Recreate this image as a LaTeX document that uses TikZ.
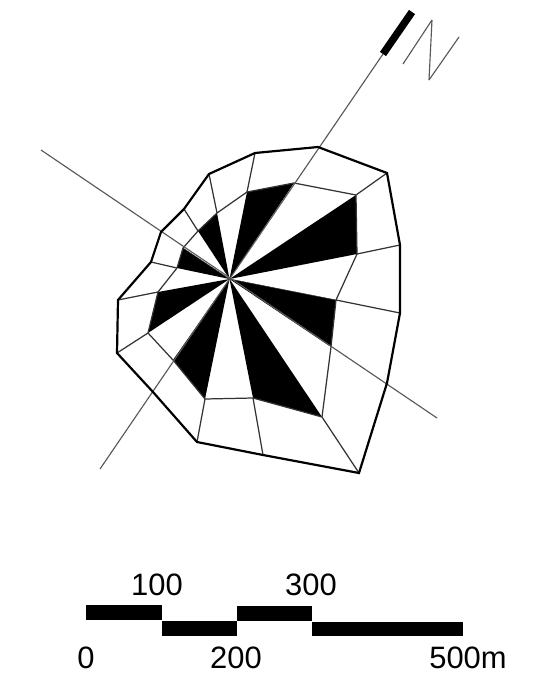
\documentclass[tikz,border=0pt]{standalone}
\usepackage{fontspec}
\setmainfont{Liberation Sans}
\begin{document}
\begin{tikzpicture}[x=0.02cm,y=-0.02cm]
\tikzstyle{o}=[draw=black,line width=1.25pt,line join=miter]
\tikzstyle{s}=[draw=black!80,line width=0.7pt]
\tikzstyle{a}=[draw=black!65,line width=0.65pt]
\tikzstyle{b}=[fill=black,draw=none]
\tikzstyle{l}=[inner sep=0pt,font=\fontsize{17.6}{20}\selectfont]
\useasboundingbox (0,0) rectangle (543,690);
\coordinate (C) at (229.5,279);
% inner ring
\coordinate (i1) at (247,192);
\coordinate (i2) at (294,183);
\coordinate (i3) at (356,195);
\coordinate (i4) at (357,254);
\coordinate (i5) at (336,300);
\coordinate (i6) at (331,347);
\coordinate (i7) at (322,417);
\coordinate (i8) at (253,398);
\coordinate (i9) at (205,399);
\coordinate (i10) at (173,360);
\coordinate (i11) at (148,333);
\coordinate (i12) at (158,292);
\coordinate (i13) at (177,268);
\coordinate (i14) at (183,248);
\coordinate (i15) at (198,231);
\coordinate (i16) at (217,213);
% outer ring
\coordinate (o1) at (255,153);
\coordinate (o2) at (318,147);
\coordinate (o3) at (387,173);
\coordinate (o4) at (400,245);
\coordinate (o5) at (400,313);
\coordinate (o6) at (387,383);
\coordinate (o7) at (359,473);
\coordinate (o8) at (263,455);
\coordinate (o9) at (197,442);
\coordinate (o10) at (153,392);
\coordinate (o11) at (117,353);
\coordinate (o12) at (118,300);
\coordinate (o13) at (151,262);
\coordinate (o14) at (161,232);
\coordinate (o15) at (184,209);
\coordinate (o16) at (209,174);
% axes
\coordinate (nA) at (100,469);
\coordinate (nB) at (383,54);
\coordinate (nC) at (412,12);
\coordinate (eA) at (41,150);
\coordinate (eB) at (437,418);
% black sectors
\fill[b] (C) -- (i1) -- (i2) -- cycle;
\fill[b] (C) -- (i3) -- (i4) -- cycle;
\fill[b] (C) -- (i5) -- (i6) -- cycle;
\fill[b] (C) -- (i7) -- (i8) -- cycle;
\fill[b] (C) -- (i9) -- (i10) -- cycle;
\fill[b] (C) -- (i11) -- (i12) -- cycle;
\fill[b] (C) -- (i13) -- (i14) -- cycle;
\fill[b] (C) -- (i15) -- (i16) -- cycle;
% rays to the centre
\draw[s,line width=0.3pt] (C) -- (i5) (C) -- (i14);
% ring and spokes
\draw[s] (i1) -- (i2) -- (i3) -- (i4) -- (i5) -- (i6) -- (i7) -- (i8) -- (i9) -- (i10) -- (i11) -- (i12) -- (i13) -- (i14) -- (i15) -- (i16) -- cycle;
\draw[s] (i1) -- (o1) (i3) -- (o3) (i4) -- (o4) (i5) -- (o5);
\draw[s] (i7) -- (o7) (i8) -- (o8) (i9) -- (o9);
\draw[s] (i11) -- (o11) (i12) -- (o12) (i13) -- (o13) (i15) -- (o15) (i16) -- (o16);
\draw[a] (nA) -- (nB);
\draw[a] (eA) -- (eB);
\draw[o] (o1) -- (o2) -- (o3) -- (o4) -- (o5) -- (o6) -- (o7) -- (o8) -- (o9) -- (o10) -- (o11) -- (o12) -- (o13) -- (o14) -- (o15) -- (o16) -- cycle;
% north
\draw[draw=black,line width=4.2pt] (nB) -- (nC);
\coordinate (n1) at (403,64);
\coordinate (n2) at (432,20);
\coordinate (n3) at (429,80);
\coordinate (n4) at (459,37);
\draw[a,line join=bevel] (n1) -- (n2) -- (n3) -- (n4);
% scale bar
\fill[b] (86,605) rectangle (162,620);
\fill[b] (162,620.5) rectangle (237,636);
\fill[b] (237,606) rectangle (312,621);
\fill[b] (312,621.5) rectangle (463,636);
\node[l] (t100) at (157,585) {100};
\node[l] (t300) at (311,585) {300};
\node[l] (t0) at (86,658) {0};
\node[l] (t200) at (236,658) {200};
\node[l] (t500) at (468,658) {500m};
\end{tikzpicture}
\end{document}
